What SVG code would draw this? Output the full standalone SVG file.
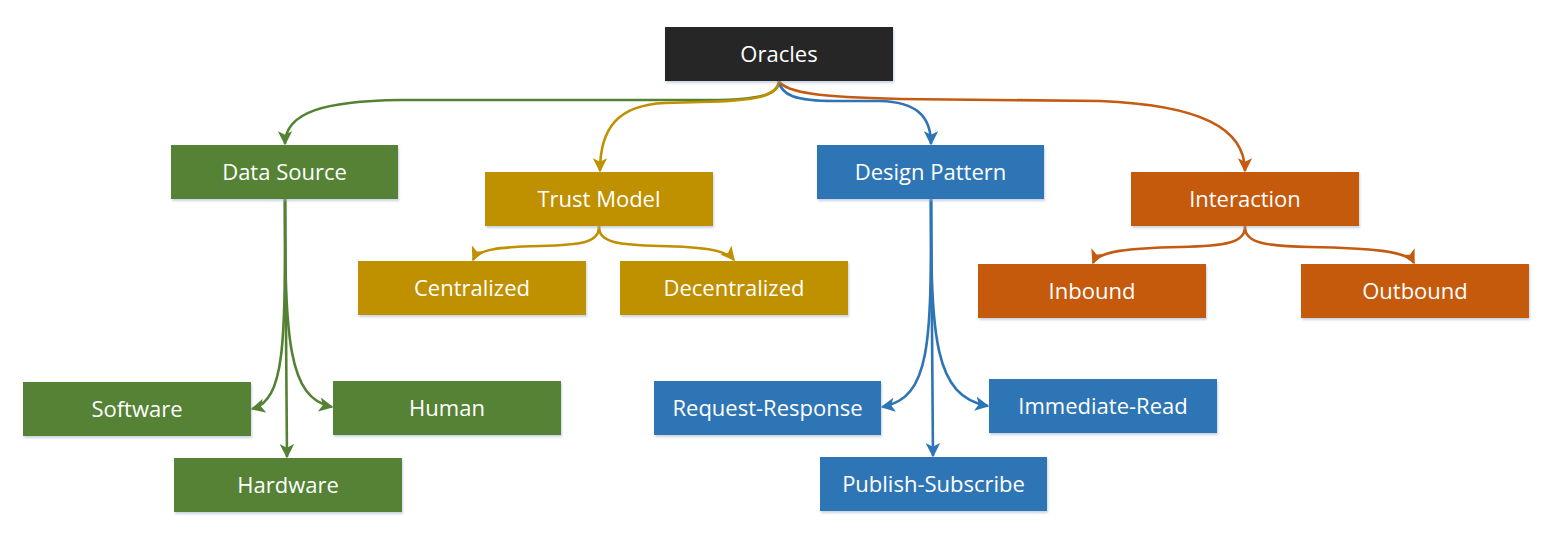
<svg xmlns="http://www.w3.org/2000/svg" width="1552" height="552" viewBox="0 0 1552 552">
<style>
  .box { stroke: none; filter: url(#sh); }
  .lbl { font-family: "Open Sans", "Noto Sans", "Liberation Sans", sans-serif; font-size: 22px; fill: #ffffff; text-anchor: middle; }
  .c { fill: none; stroke-width: 2.6; }
  .g { stroke: #548235; }
  .y { stroke: #BF9000; }
  .b { stroke: #2E75B6; }
  .o { stroke: #C55A11; }
</style>
<defs>
  <filter id="sh" x="-10%" y="-20%" width="120%" height="150%">
    <feDropShadow dx="1" dy="2" stdDeviation="1.2" flood-color="#9dafc8" flood-opacity="0.55"/>
  </filter>
  <marker id="ag" viewBox="0 0 10 10" refX="9" refY="5" markerWidth="5.5" markerHeight="5.5" orient="auto"><path d="M0,0 L10,5 L0,10 L2.5,5 z" fill="#548235"/></marker>
  <marker id="ay" viewBox="0 0 10 10" refX="9" refY="5" markerWidth="5.5" markerHeight="5.5" orient="auto"><path d="M0,0 L10,5 L0,10 L2.5,5 z" fill="#BF9000"/></marker>
  <marker id="ab" viewBox="0 0 10 10" refX="9" refY="5" markerWidth="5.5" markerHeight="5.5" orient="auto"><path d="M0,0 L10,5 L0,10 L2.5,5 z" fill="#2E75B6"/></marker>
  <marker id="ao" viewBox="0 0 10 10" refX="9" refY="5" markerWidth="5.5" markerHeight="5.5" orient="auto"><path d="M0,0 L10,5 L0,10 L2.5,5 z" fill="#C55A11"/></marker>
</defs>
<rect width="1552" height="552" fill="#ffffff"/>

<g id="connectors">
  <path class="c g" marker-end="url(#ag)" d="M779 81 C779 93, 765 99, 720 100 L400 100 C325 101, 285 112, 285 144"/>
  <path class="c y" marker-end="url(#ay)" d="M779 81 C777 96, 758 101, 700 102 L665 103 C618 105, 600 128, 600 171"/>
  <path class="c b" marker-end="url(#ab)" d="M779 81 C781 95, 795 101, 835 101 L880 101 C915 102, 931 115, 931 144"/>
  <path class="c o" marker-end="url(#ao)" d="M779 81 C786 93, 820 97, 900 99 L1100 101 C1200 105, 1245 128, 1245 171"/>

  <path class="c g" marker-end="url(#ag)" d="M285 199 L287 457"/>
  <path class="c g" marker-end="url(#ag)" d="M285 199 C285 340, 286 400, 252 409"/>
  <path class="c g" marker-end="url(#ag)" d="M285 199 C285 340, 288 398, 332 407"/>

  <path class="c y" marker-end="url(#ay)" d="M599 226 C600 243, 580 245, 540 246 C500 247, 478 249, 473 260"/>
  <path class="c y" marker-end="url(#ay)" d="M599 226 C598 243, 620 245, 660 246 C700 247, 725 249, 734 260"/>

  <path class="c b" marker-end="url(#ab)" d="M931 199 L933 456"/>
  <path class="c b" marker-end="url(#ab)" d="M931 199 C931 340, 932 398, 882 407"/>
  <path class="c b" marker-end="url(#ab)" d="M931 199 C931 340, 934 396, 988 406"/>

  <path class="c o" marker-end="url(#ao)" d="M1245 226 C1246 243, 1225 246, 1180 247 C1130 248, 1098 251, 1093 263"/>
  <path class="c o" marker-end="url(#ao)" d="M1245 226 C1244 243, 1265 246, 1310 247 C1370 248, 1408 251, 1414 263"/>
</g>

<g id="n-oracles"><rect class="box" x="665" y="27" width="228" height="54" fill="#262626"/><text class="lbl" x="779" y="62">Oracles</text></g>

<g id="n-datasource"><rect class="box" x="171" y="145" width="227" height="54" fill="#548235"/><text class="lbl" x="284.5" y="180">Data Source</text></g>
<g id="n-trustmodel"><rect class="box" x="485" y="172" width="228" height="54" fill="#BF9000"/><text class="lbl" x="599" y="207">Trust Model</text></g>
<g id="n-designpattern"><rect class="box" x="817" y="145" width="227" height="54" fill="#2E75B6"/><text class="lbl" x="930.5" y="180">Design Pattern</text></g>
<g id="n-interaction"><rect class="box" x="1131" y="172" width="228" height="54" fill="#C55A11"/><text class="lbl" x="1245" y="207">Interaction</text></g>

<g id="n-centralized"><rect class="box" x="358" y="261" width="228" height="54" fill="#BF9000"/><text class="lbl" x="472" y="296">Centralized</text></g>
<g id="n-decentralized"><rect class="box" x="620" y="261" width="228" height="54" fill="#BF9000"/><text class="lbl" x="734" y="296">Decentralized</text></g>

<g id="n-inbound"><rect class="box" x="978" y="264" width="228" height="54" fill="#C55A11"/><text class="lbl" x="1092" y="299">Inbound</text></g>
<g id="n-outbound"><rect class="box" x="1301" y="264" width="228" height="54" fill="#C55A11"/><text class="lbl" x="1415" y="299">Outbound</text></g>

<g id="n-software"><rect class="box" x="23" y="382" width="228" height="54" fill="#548235"/><text class="lbl" x="137" y="417">Software</text></g>
<g id="n-human"><rect class="box" x="333" y="381" width="228" height="54" fill="#548235"/><text class="lbl" x="447" y="416">Human</text></g>
<g id="n-hardware"><rect class="box" x="174" y="458" width="228" height="54" fill="#548235"/><text class="lbl" x="288" y="493">Hardware</text></g>

<g id="n-reqresp"><rect class="box" x="654" y="381" width="227" height="54" fill="#2E75B6"/><text class="lbl" x="767.5" y="416">Request-Response</text></g>
<g id="n-immread"><rect class="box" x="989" y="379" width="228" height="54" fill="#2E75B6"/><text class="lbl" x="1103" y="414">Immediate-Read</text></g>
<g id="n-pubsub"><rect class="box" x="820" y="457" width="227" height="54" fill="#2E75B6"/><text class="lbl" x="933.5" y="492">Publish-Subscribe</text></g>
</svg>
